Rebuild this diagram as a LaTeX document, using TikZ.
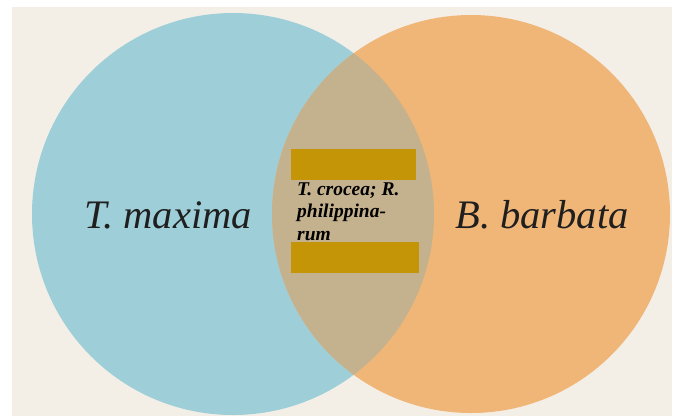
\documentclass[tikz,border=0pt]{standalone}
\usepackage{fontspec}
\setmainfont{Liberation Serif}
\definecolor{pagebg}{HTML}{F3EFE7}
\definecolor{blueset}{HTML}{9ECFD9}
\definecolor{orangeset}{HTML}{F0B678}
\definecolor{overlapset}{HTML}{C4B18D}
\definecolor{mustard}{HTML}{C59508}
\tikzset{
  setlabel/.style={font=\fontsize{40.5}{44}\selectfont\itshape, text=black!88, inner sep=0pt, anchor=base},
  midlabel/.style={font=\fontsize{19.5}{22.5}\selectfont\bfseries\itshape, text=black, inner sep=0pt, anchor=base west, align=left},
  barbox/.style={fill=mustard, draw=none}
}
\begin{document}
\begin{tikzpicture}[x=1pt,y=-1pt]
  \useasboundingbox (0,0) rectangle (674,416);
  \fill[white] (0,0) rectangle (674,416);
  \fill[pagebg] (12,7) rectangle (672,416);
  % sets
  \fill[blueset] (233,214) circle[radius=201];
  \fill[orangeset] (471,214) circle[radius=199];
  \begin{scope}
    \clip (233,214) circle[radius=201];
    \fill[overlapset] (471,214) circle[radius=199];
  \end{scope}
  % bars
  \fill[barbox] (291,149) rectangle (416,180);
  \fill[barbox] (291,242) rectangle (419,273);
  % labels
  \node[setlabel] (tmax) at (168,228) {T. maxima};
  \node[setlabel] (bbar) at (542,228) {B. barbata};
  \node[midlabel] (shared) at (297,240) {T. crocea; R.\\philippina-\\rum};
\end{tikzpicture}
\end{document}
